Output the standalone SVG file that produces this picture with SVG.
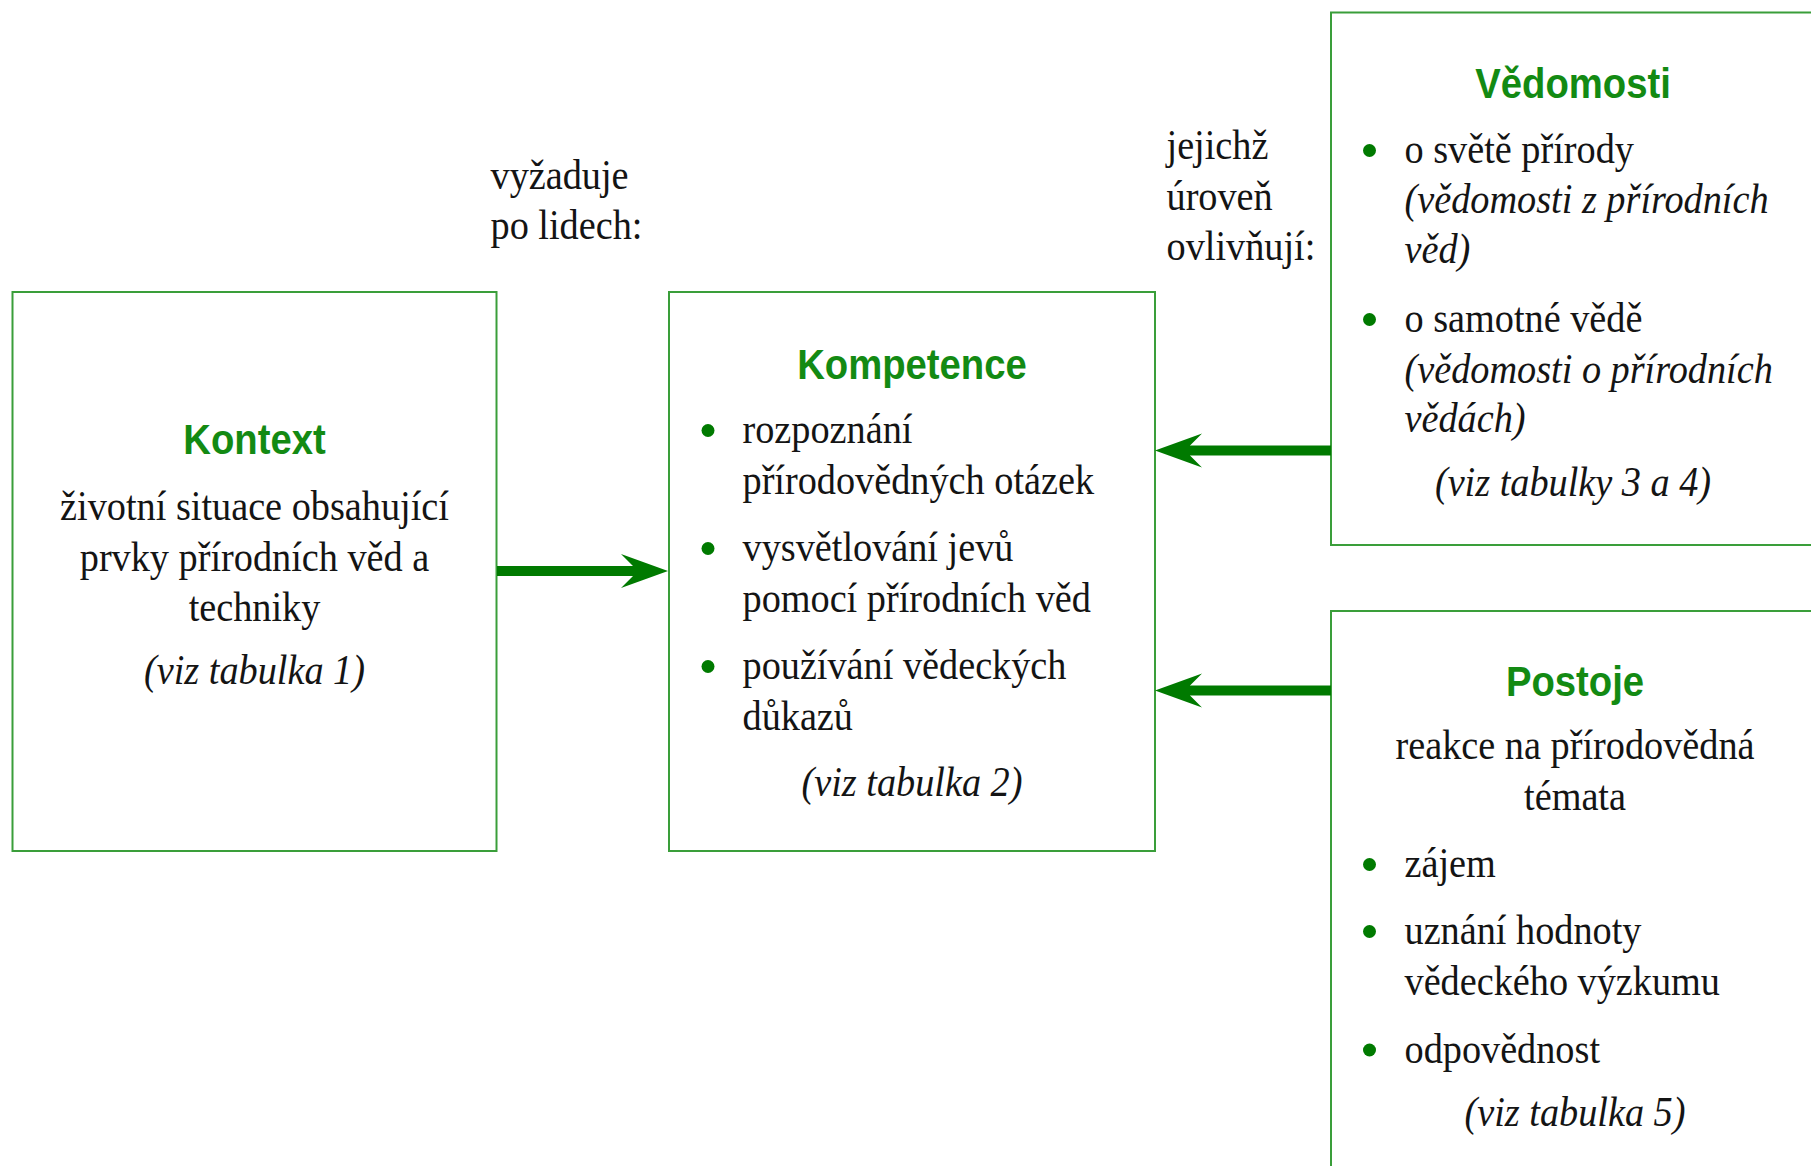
<svg xmlns="http://www.w3.org/2000/svg" width="1811" height="1166" viewBox="0 0 1811 1166">
<defs>
<style>
.t{font-family:"Liberation Serif","Times New Roman",serif;font-size:43px;fill:#141414}
.i{font-style:italic}
.h{font-family:"Liberation Sans",Arial,sans-serif;font-weight:bold;font-size:43px;fill:#138a13}
.m{text-anchor:middle}
.box{fill:#fff;stroke:#3a9e3a;stroke-width:2}
.bul{fill:#007a00}
.arr{stroke:#007a00;stroke-width:10;fill:none}
</style>
<marker id="ah" markerUnits="userSpaceOnUse" markerWidth="60" markerHeight="40" viewBox="-15 -20 55 40" refX="0" refY="0" orient="auto" overflow="visible">
<path d="M35,0 L-12,-17 L0,-5 L0,5 L-12,17 Z" fill="#007a00"/>
</marker>
</defs>
<rect width="1811" height="1166" fill="#fff"/>

<g id="label-vyzaduje">
<text class="t" transform="translate(490.5,189) scale(0.89,1)">vyžaduje</text>
<text class="t" transform="translate(490.5,238.5) scale(0.89,1)">po lidech:</text>
</g>
<g id="label-jejichz">
<text class="t" transform="translate(1166.5,159) scale(0.89,1)">jejichž</text>
<text class="t" transform="translate(1166.5,209.5) scale(0.89,1)">úroveň</text>
<text class="t" transform="translate(1166.5,260) scale(0.89,1)">ovlivňují:</text>
</g>

<g id="node-kontext">
<rect class="box" x="12.5" y="292" width="484" height="559"/>
<text class="h m" transform="translate(254.5,454) scale(0.89,1)">Kontext</text>
<text class="t m" transform="translate(254.5,519.5) scale(0.89,1)">životní situace obsahující</text>
<text class="t m" transform="translate(254.5,570.5) scale(0.89,1)">prvky přírodních věd a</text>
<text class="t m" transform="translate(254.5,621) scale(0.89,1)">techniky</text>
<text class="t i m" transform="translate(254.5,684) scale(0.89,1)">(viz tabulka 1)</text>
</g>

<g id="node-kompetence">
<rect class="box" x="669" y="292" width="486" height="559"/>
<text class="h m" transform="translate(912,378.5) scale(0.89,1)">Kompetence</text>
<circle class="bul" cx="708" cy="430.5" r="6.5"/>
<text class="t" transform="translate(742.5,443) scale(0.89,1)">rozpoznání</text>
<text class="t" transform="translate(742.5,494) scale(0.89,1)">přírodovědných otázek</text>
<circle class="bul" cx="708" cy="548.5" r="6.5"/>
<text class="t" transform="translate(742.5,561) scale(0.89,1)">vysvětlování jevů</text>
<text class="t" transform="translate(742.5,612) scale(0.89,1)">pomocí přírodních věd</text>
<circle class="bul" cx="708" cy="666.5" r="6.5"/>
<text class="t" transform="translate(742.5,679) scale(0.89,1)">používání vědeckých</text>
<text class="t" transform="translate(742.5,730) scale(0.89,1)">důkazů</text>
<text class="t i m" transform="translate(912,796) scale(0.89,1)">(viz tabulka 2)</text>
</g>

<g id="node-vedomosti">
<rect class="box" x="1331" y="12.5" width="520" height="532.5"/>
<text class="h m" transform="translate(1573,98) scale(0.89,1)">Vědomosti</text>
<circle class="bul" cx="1369.5" cy="150.5" r="6.5"/>
<text class="t" transform="translate(1404.5,163) scale(0.89,1)">o světě přírody</text>
<text class="t i" transform="translate(1404.5,213) scale(0.89,1)">(vědomosti z přírodních</text>
<text class="t i" transform="translate(1404.5,262.5) scale(0.89,1)">věd)</text>
<circle class="bul" cx="1369.5" cy="319.5" r="6.5"/>
<text class="t" transform="translate(1404.5,332) scale(0.89,1)">o samotné vědě</text>
<text class="t i" transform="translate(1404.5,383) scale(0.89,1)">(vědomosti o přírodních</text>
<text class="t i" transform="translate(1404.5,431.5) scale(0.89,1)">vědách)</text>
<text class="t i m" transform="translate(1573,496) scale(0.89,1)">(viz tabulky 3 a 4)</text>
</g>

<g id="node-postoje">
<rect class="box" x="1331" y="611" width="520" height="600"/>
<text class="h m" transform="translate(1575,695.5) scale(0.89,1)">Postoje</text>
<text class="t m" transform="translate(1575,759) scale(0.89,1)">reakce na přírodovědná</text>
<text class="t m" transform="translate(1575,810) scale(0.89,1)">témata</text>
<circle class="bul" cx="1369.5" cy="864.5" r="6.5"/>
<text class="t" transform="translate(1404.5,877) scale(0.89,1)">zájem</text>
<circle class="bul" cx="1369.5" cy="931.5" r="6.5"/>
<text class="t" transform="translate(1404.5,944) scale(0.89,1)">uznání hodnoty</text>
<text class="t" transform="translate(1404.5,995) scale(0.89,1)">vědeckého výzkumu</text>
<circle class="bul" cx="1369.5" cy="1050" r="6.5"/>
<text class="t" transform="translate(1404.5,1062.5) scale(0.89,1)">odpovědnost</text>
<text class="t i m" transform="translate(1575,1125.5) scale(0.89,1)">(viz tabulka 5)</text>
</g>

<g id="connectors">
<line class="arr" x1="497" y1="571" x2="633" y2="571" marker-end="url(#ah)"/>
<line class="arr" x1="1331" y1="450.5" x2="1190" y2="450.5" marker-end="url(#ah)"/>
<line class="arr" x1="1331" y1="690.5" x2="1190" y2="690.5" marker-end="url(#ah)"/>
</g>
</svg>
